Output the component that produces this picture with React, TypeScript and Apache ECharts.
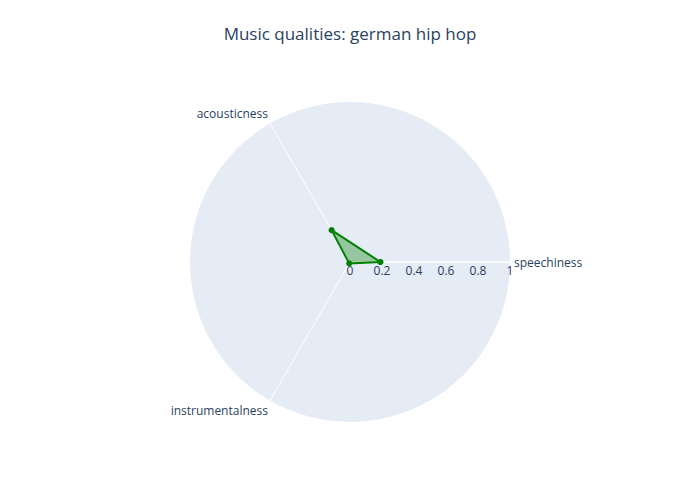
import React, { useEffect, useRef } from "react";
import * as echarts from "echarts";

const features = ["speechiness", "acousticness", "instrumentalness"];
const values = [0.19, 0.23, 0.01];
const radiusTicks = [0, 0.2, 0.4, 0.6, 0.8, 1];

export default function App() {
  const ref = useRef<HTMLDivElement>(null);
  useEffect(() => {
    const chart = echarts.init(ref.current!, null, { renderer: "svg" });
    const data = values.map((v, i) => [v, i * 120]);
    data.push([values[0], 360]);
    chart.setOption({
      animation: false,
      textStyle: { fontFamily: "Open Sans, sans-serif", color: "#2a3f5f" },
      title: {
        text: "Music qualities: german hip hop",
        left: "center",
        top: 20,
        textStyle: { fontSize: 17, fontWeight: "normal", color: "#2a3f5f", fontFamily: "Open Sans, sans-serif" },
      },
      polar: { center: [350, 262], radius: 160 },
      angleAxis: {
        type: "value",
        min: 0,
        max: 360,
        interval: 120,
        startAngle: 0,
        clockwise: false,
        axisLine: { show: false },
        axisTick: { show: false },
        splitLine: { show: true, lineStyle: { color: "#fff", width: 1 } },
        axisLabel: {
          color: "#2a3f5f",
          fontSize: 12,
          margin: 4,
          formatter: (v: number) => (v < 360 ? features[Math.round(v / 120)] : ""),
        },
      },
      radiusAxis: {
        min: 0,
        max: 1,
        interval: 0.2,
        axisLine: { show: true, lineStyle: { color: "#fff" } },
        axisTick: { show: false },
        splitLine: { show: true, lineStyle: { color: "#fff" } },
        splitArea: { show: true, areaStyle: { color: ["#e5ecf6"] } },
        axisLabel: {
          color: "#2a3f5f",
          fontSize: 12,
          verticalAlign: "top",
          margin: -2,
          formatter: (v: number) => String(radiusTicks.find((t) => Math.abs(t - v) < 1e-9) ?? v),
        },
      },
      series: [
        {
          type: "line",
          coordinateSystem: "polar",
          data,
          symbol: "circle",
          symbolSize: 6,
          z: 10,
          itemStyle: { color: "green" },
          lineStyle: { color: "green", width: 2 },
          areaStyle: { color: "rgba(0,128,0,0.5)" },
        },
      ],
    });
    return () => chart.dispose();
  }, []);
  return <div ref={ref} style={{ position: "absolute", left: 0, top: 0, width: 700, height: 500 }} />;
}
